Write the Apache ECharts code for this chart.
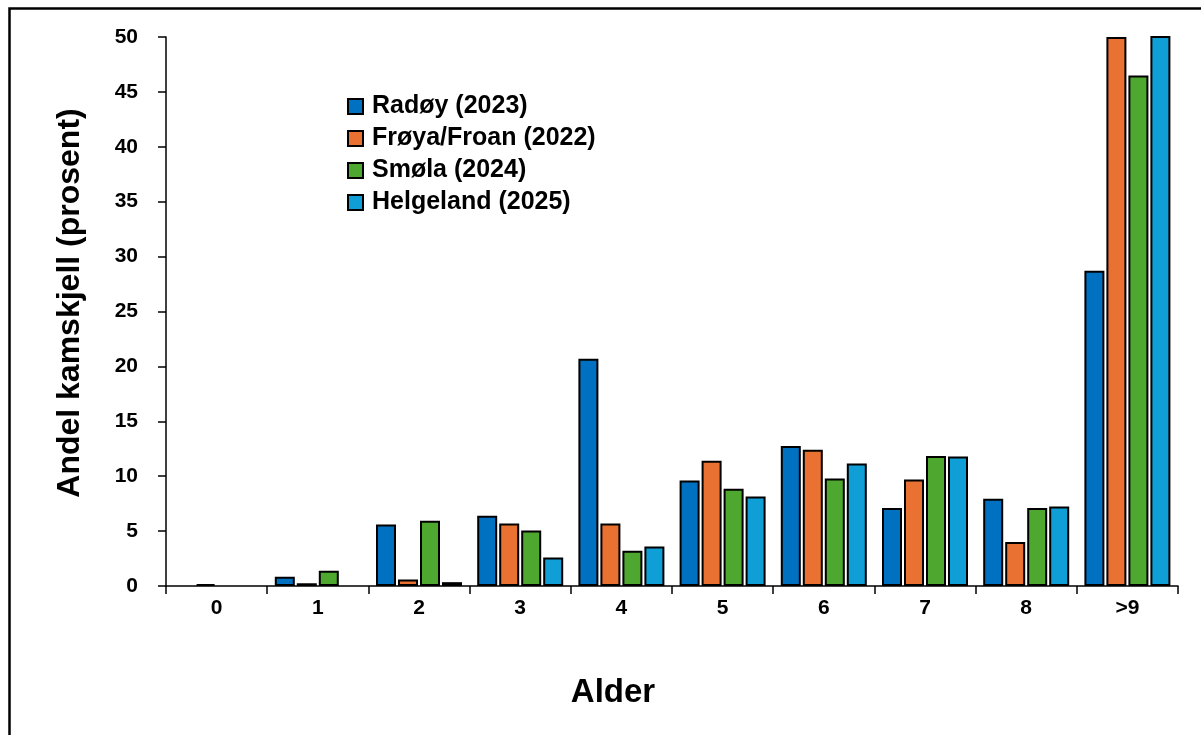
<!DOCTYPE html>
<html>
<head>
<meta charset="utf-8">
<title>Andel kamskjell etter alder</title>
<script src="https://cdn.jsdelivr.net/npm/echarts@6/dist/echarts.min.js"></script>
<style>
  html, body { margin: 0; padding: 0; background: #ffffff; }
  #chart { width: 1201px; height: 735px; }
</style>
</head>
<body>
<div id="chart"></div>
<script>
// Age classes on the x axis
const ageClasses = ['0', '1', '2', '3', '4', '5', '6', '7', '8', '>9'];

// Share of scallops per age class (percent), one array per survey area
const radoy2023      = [0,    0.85, 5.6,  6.4,  20.7, 9.6,  12.75, 7.1,   7.95, 28.7];
const froyaFroan2022 = [0.18, 0.25, 0.6,  5.7,  5.7,  11.4, 12.4,  9.7,   4.0,  50.0];
const smola2024      = [0,    1.4,  5.95, 5.05, 3.2,  8.85, 9.8,   11.85, 7.1,  46.5];
const helgeland2025  = [0,    0,    0.35, 2.6,  3.6,  8.15, 11.15, 11.8,  7.25, 52.0];

const seriesNames = ['Radøy (2023)', 'Frøya/Froan (2022)', 'Smøla (2024)', 'Helgeland (2025)'];
const seriesColors = ['#0070C0', '#E97132', '#4EA72E', '#0F9ED5'];
const seriesValues = [radoy2023, froyaFroan2022, smola2024, helgeland2025];

const font = 'Liberation Sans, Arial, sans-serif';

const chart = echarts.init(document.getElementById('chart'), null, { renderer: 'canvas' });

chart.setOption({
  animation: false,
  backgroundColor: '#ffffff',
  textStyle: { fontFamily: font },
  graphic: [
    {
      // outer frame
      type: 'rect',
      left: 7, top: 6,
      shape: { width: 1200, height: 760 },
      style: { fill: 'none', stroke: '#000000', lineWidth: 2.5 },
      silent: true
    },
    {
      // y axis title
      type: 'text',
      x: 70, y: 303,
      rotation: Math.PI / 2,
      style: {
        text: 'Andel kamskjell (prosent)',
        font: 'bold 32px ' + font,
        fill: '#000000',
        align: 'center',
        verticalAlign: 'middle'
      },
      silent: true
    },
    {
      // x axis title
      type: 'text',
      x: 613, y: 693,
      style: {
        text: 'Alder',
        font: 'bold 33px ' + font,
        fill: '#000000',
        align: 'center',
        verticalAlign: 'middle'
      },
      silent: true
    }
  ],
  legend: {
    orient: 'vertical',
    left: 342, top: 89,
    icon: 'rect',
    itemWidth: 15, itemHeight: 15,
    itemGap: 7,
    data: seriesNames,
    textStyle: { fontFamily: font, fontWeight: 'bold', fontSize: 25, color: '#000000', padding: [0, 0, 0, 4] }
  },
  grid: { left: 166, right: 23, top: 37, bottom: 149, containLabel: false },
  xAxis: {
    type: 'category',
    data: ageClasses,
    boundaryGap: true,
    axisLine: { show: true, lineStyle: { color: '#000000', width: 1.5 } },
    axisTick: { show: true, alignWithLabel: false, length: 8, lineStyle: { color: '#000000', width: 1.5 } },
    axisLabel: { fontFamily: font, fontWeight: 'bold', fontSize: 21, color: '#000000', margin: 12 },
    splitLine: { show: false }
  },
  yAxis: {
    type: 'value',
    min: 0, max: 50, interval: 5,
    axisLine: { show: true, lineStyle: { color: '#000000', width: 1.5 } },
    axisTick: { show: true, length: 8, lineStyle: { color: '#000000', width: 1.5 } },
    axisLabel: { fontFamily: font, fontWeight: 'bold', fontSize: 21, color: '#000000', margin: 28 },
    splitLine: { show: false }
  },
  series: seriesNames.map((name, i) => ({
    name: name,
    type: 'bar',
    data: seriesValues[i].map(v => (v === 0 ? null : v)),
    barWidth: 20,
    barGap: '10%',
    clip: true,
    itemStyle: { color: seriesColors[i], borderColor: '#000000', borderWidth: 2 }
  }))
});
</script>
</body>
</html>
